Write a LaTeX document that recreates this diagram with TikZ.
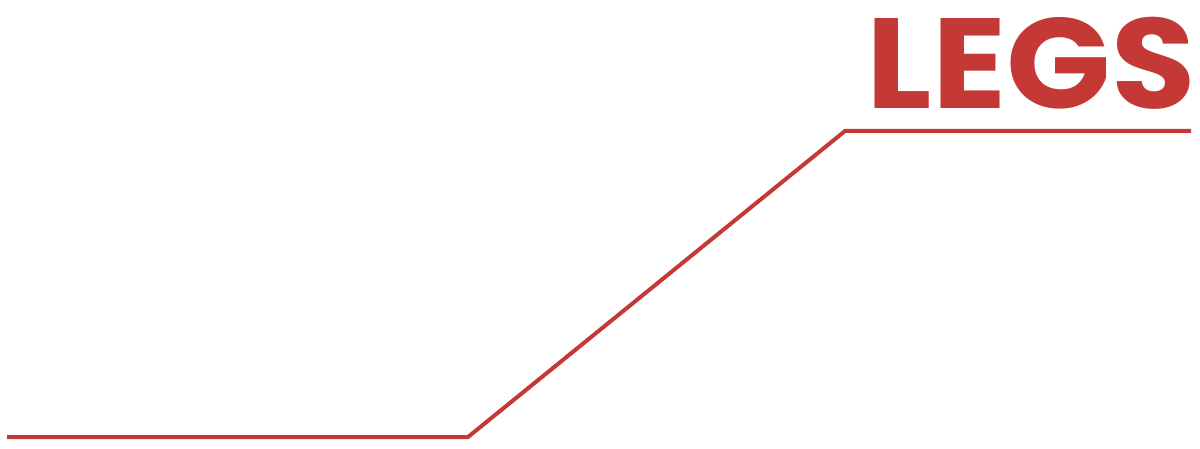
\documentclass[tikz,border=0pt]{standalone}
\usepackage{fontspec}
\newfontfamily\legsfont{Poppins}[FakeStretch=1.07]
\usepackage{tikz}
\usetikzlibrary{positioning}
\definecolor{legred}{RGB}{196,56,53}

\begin{document}
\begin{tikzpicture}[x=0.02cm, y=-0.02cm]
            \useasboundingbox (0,0) rectangle (1200,449);
            \coordinate (start) at (7,437);
            \coordinate (knee) at (468,437);
            \coordinate (top) at (845,131);
            \coordinate (stop) at (1191,131);
            \draw[legred, line width=0.08cm, line join=miter] (start) -- (knee) -- (top) -- (stop);

            \node[anchor=base east, inner sep=0pt, text=legred, font=\legsfont\bfseries\fontsize{73}{73}\selectfont] (legs) at (1196,109) {LEGS};
        \end{tikzpicture}
\end{document}
